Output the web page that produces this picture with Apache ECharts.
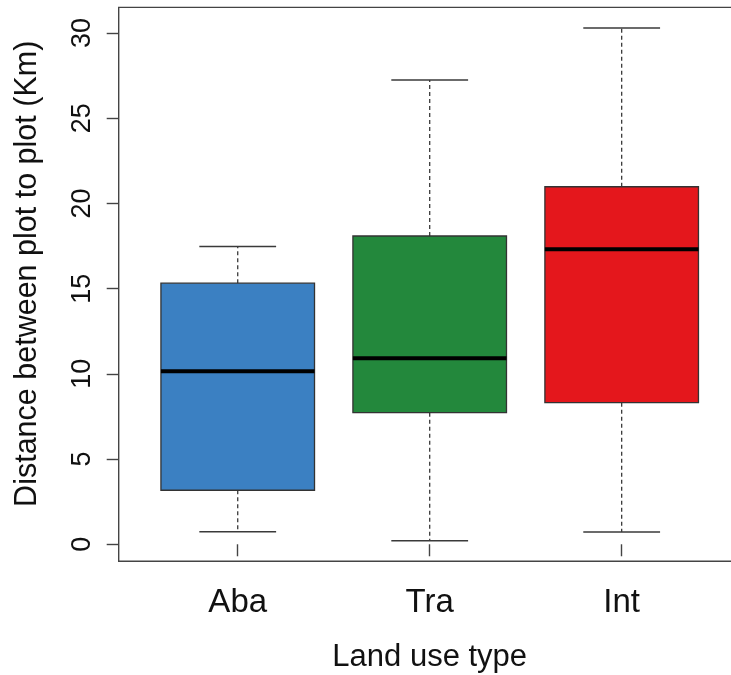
<!DOCTYPE html>
<html>
<head>
<meta charset="utf-8">
<script src="https://cdn.jsdelivr.net/npm/echarts@6/dist/echarts.min.js"></script>
<style>
  html, body { margin: 0; padding: 0; background: #fff; overflow: hidden; }
  #chart { width: 731px; height: 675px; }
</style>
</head>
<body>
<div id="chart"></div>
<script>
// Land use categories and their box statistics (km)
const categories = ['Aba', 'Tra', 'Int'];
const whiskerLow = [0.74, 0.21, 0.72];
const quartile1  = [3.17, 7.72, 8.31];
const medians    = [10.15, 10.92, 17.31];
const quartile3  = [15.32, 18.09, 20.98];
const whiskerHigh = [17.47, 27.25, 30.3];
const boxColors  = ['#3B80C2', '#23883C', '#E4171C'];
const yTicks = [0, 5, 10, 15, 20, 25, 30];

// Axis ranges padded by 4% like a base-graphics plot
const lo = Math.min(...whiskerLow), hi = Math.max(...whiskerHigh);
const yPad = 0.04 * (hi - lo);
const xPad = 0.04 * categories.length;

const boxData = categories.map((c, i) => [
  i + 1, whiskerLow[i], quartile1[i], medians[i], quartile3[i], whiskerHigh[i], i
]);

const ink = '#3a3a3a';

function renderBox(params, api) {
  const x = api.value(0);
  const low = api.coord([x, api.value(1)]);
  const q1 = api.coord([x, api.value(2)]);
  const med = api.coord([x, api.value(3)]);
  const q3 = api.coord([x, api.value(4)]);
  const high = api.coord([x, api.value(5)]);
  const boxW = api.size([0.8, 0])[0];
  const half = boxW / 2;
  const capHalf = boxW / 4;
  const cx = low[0];
  const color = boxColors[api.value(6)];
  const dashed = { stroke: ink, lineWidth: 1.3, lineDash: [4, 3] };
  const solid = { stroke: ink, lineWidth: 1.5 };
  return {
    type: 'group',
    children: [
      { type: 'line', shape: { x1: cx, y1: q3[1], x2: cx, y2: high[1] }, style: dashed },
      { type: 'line', shape: { x1: cx, y1: q1[1], x2: cx, y2: low[1] }, style: dashed },
      { type: 'line', shape: { x1: cx - capHalf, y1: high[1], x2: cx + capHalf, y2: high[1] }, style: solid },
      { type: 'line', shape: { x1: cx - capHalf, y1: low[1], x2: cx + capHalf, y2: low[1] }, style: solid },
      { type: 'rect', shape: { x: cx - half, y: q3[1], width: boxW, height: q1[1] - q3[1] },
        style: { fill: color, stroke: '#333', lineWidth: 1.3 } },
      { type: 'line', shape: { x1: cx - half, y1: med[1], x2: cx + half, y2: med[1] },
        style: { stroke: '#000', lineWidth: 4 } }
    ]
  };
}

const chart = echarts.init(document.getElementById('chart'), null, { renderer: 'canvas' });
const fontFamily = '"Liberation Sans", Arial, Helvetica, sans-serif';

chart.setOption({
  animation: false,
  backgroundColor: '#fff',
  grid: {
    left: 118.7, width: 622, top: 7.4, bottom: 113.8,
    outerBoundsMode: 'none',
    containLabel: false,
    show: true, borderColor: '#444', borderWidth: 1.4, backgroundColor: 'transparent'
  },
  xAxis: {
    type: 'value',
    min: 0.5 - xPad,
    max: categories.length + 0.5 + xPad,
    splitLine: { show: false },
    axisLine: { show: false },
    axisTick: { show: true, length: 12, customValues: [1, 2, 3], lineStyle: { color: '#444', width: 1.4 } },
    axisLabel: {
      customValues: [1, 2, 3],
      formatter: v => categories[Math.round(v) - 1] || '',
      margin: 25, fontSize: 33, color: '#111', fontFamily
    },
    name: 'Land use type',
    nameLocation: 'middle',
    nameGap: 81,
    nameTextStyle: { fontSize: 31, color: '#111', fontFamily }
  },
  yAxis: {
    type: 'value',
    min: lo - yPad,
    max: hi + yPad,
    splitLine: { show: false },
    axisLine: { show: false },
    axisTick: { show: true, length: 12, customValues: yTicks, lineStyle: { color: '#444', width: 1.4 } },
    axisLabel: {
      customValues: yTicks,
      rotate: 90,
      margin: 23, fontSize: 27, color: '#111', fontFamily
    },
    name: 'Distance between plot to plot (Km)',
    nameLocation: 'middle',
    nameGap: 76,
    nameRotate: 90,
    nameTextStyle: { fontSize: 30.5, color: '#111', fontFamily, padding: [0, 0, 0, 21] }
  },
  series: [{
    type: 'custom',
    renderItem: renderBox,
    encode: { x: 0, y: [1, 2, 3, 4, 5] },
    data: boxData,
    clip: false
  }]
});
</script>
</body>
</html>
